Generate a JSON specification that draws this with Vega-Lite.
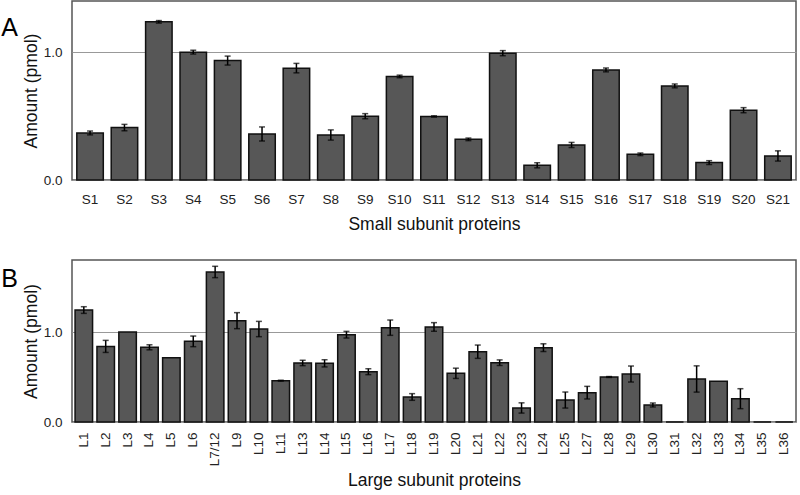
{
  "$schema": "https://vega.github.io/schema/vega-lite/v6.json",
  "background": "white",
  "padding": {"left": 0, "top": 0, "right": 2, "bottom": 2},
  "config": {
    "font": "Liberation Sans",
    "view": {"stroke": "#555", "strokeWidth": 1.5},
    "axis": {"labelFont": "Liberation Sans", "titleFont": "Liberation Sans", "labelFontSize": 13.5, "titleFontSize": 17.5, "titleFontWeight": "normal", "labelColor": "#222", "titleColor": "#111", "ticks": false, "domain": false},
    "concat": {"spacing": 25}
  },
  "datasets": {
    "small": [
      {"protein": "S1", "amount": 0.368, "err": 0.015},
      {"protein": "S2", "amount": 0.41, "err": 0.025},
      {"protein": "S3", "amount": 1.237, "err": 0.01},
      {"protein": "S4", "amount": 1.0, "err": 0.015},
      {"protein": "S5", "amount": 0.934, "err": 0.035},
      {"protein": "S6", "amount": 0.36, "err": 0.055},
      {"protein": "S7", "amount": 0.875, "err": 0.037},
      {"protein": "S8", "amount": 0.352, "err": 0.04},
      {"protein": "S9", "amount": 0.499, "err": 0.02},
      {"protein": "S10", "amount": 0.81, "err": 0.01},
      {"protein": "S11", "amount": 0.497, "err": 0.005},
      {"protein": "S12", "amount": 0.318, "err": 0.01},
      {"protein": "S13", "amount": 0.992, "err": 0.02},
      {"protein": "S14", "amount": 0.115, "err": 0.02},
      {"protein": "S15", "amount": 0.274, "err": 0.02},
      {"protein": "S16", "amount": 0.861, "err": 0.015},
      {"protein": "S17", "amount": 0.201, "err": 0.01},
      {"protein": "S18", "amount": 0.736, "err": 0.015},
      {"protein": "S19", "amount": 0.136, "err": 0.015},
      {"protein": "S20", "amount": 0.546, "err": 0.02},
      {"protein": "S21", "amount": 0.188, "err": 0.04}
    ],
    "large": [
      {"protein": "L1", "amount": 1.244, "err": 0.037},
      {"protein": "L2", "amount": 0.84, "err": 0.067},
      {"protein": "L3", "amount": 1.0, "err": 0},
      {"protein": "L4", "amount": 0.83, "err": 0.028},
      {"protein": "L5", "amount": 0.715, "err": 0},
      {"protein": "L6", "amount": 0.896, "err": 0.059},
      {"protein": "L7/12", "amount": 1.667, "err": 0.063},
      {"protein": "L9", "amount": 1.126, "err": 0.089},
      {"protein": "L10", "amount": 1.033, "err": 0.085},
      {"protein": "L11", "amount": 0.459, "err": 0.005},
      {"protein": "L13", "amount": 0.656, "err": 0.03},
      {"protein": "L14", "amount": 0.652, "err": 0.04},
      {"protein": "L15", "amount": 0.97, "err": 0.037},
      {"protein": "L16", "amount": 0.559, "err": 0.033},
      {"protein": "L17", "amount": 1.048, "err": 0.085},
      {"protein": "L18", "amount": 0.278, "err": 0.037},
      {"protein": "L19", "amount": 1.056, "err": 0.048},
      {"protein": "L20", "amount": 0.541, "err": 0.057},
      {"protein": "L21", "amount": 0.781, "err": 0.074},
      {"protein": "L22", "amount": 0.659, "err": 0.031},
      {"protein": "L23", "amount": 0.156, "err": 0.057},
      {"protein": "L24", "amount": 0.826, "err": 0.043},
      {"protein": "L25", "amount": 0.244, "err": 0.089},
      {"protein": "L27", "amount": 0.326, "err": 0.07},
      {"protein": "L28", "amount": 0.5, "err": 0.005},
      {"protein": "L29", "amount": 0.533, "err": 0.089},
      {"protein": "L30", "amount": 0.189, "err": 0.022},
      {"protein": "L31", "amount": 0, "err": 0},
      {"protein": "L32", "amount": 0.478, "err": 0.146},
      {"protein": "L33", "amount": 0.452, "err": 0},
      {"protein": "L34", "amount": 0.259, "err": 0.111},
      {"protein": "L35", "amount": 0, "err": 0},
      {"protein": "L36", "amount": 0, "err": 0}
    ]
  },
  "vconcat": [
    {
      "width": 724,
      "height": 179,
      "title": {"text": "A", "anchor": "start", "frame": "bounds", "fontSize": 25, "fontWeight": "normal", "color": "#000", "dx": -21, "dy": 40, "offset": 0},
      "data": {"name": "small"},
      "layer": [
        {
          "mark": {"type": "bar", "fill": "#575757", "stroke": "#111", "strokeWidth": 1.5},
          "encoding": {
            "x": {"field": "protein", "type": "nominal", "sort": null, "scale": {"paddingInner": 0.23, "paddingOuter": 0.14}, "axis": {"labelAngle": 0, "title": "Small subunit proteins", "labelPadding": 12, "titlePadding": 10}},
            "y": {"field": "amount", "type": "quantitative", "title": "Amount (pmol)", "scale": {"domain": [0, 1.4]}, "axis": {"values": [0, 1], "format": ".1f", "grid": true, "gridColor": "#999", "gridWidth": 1.2, "labelPadding": 10, "titlePadding": 3}}
          }
        },
        {
          "mark": {"type": "errorbar", "ticks": {"size": 6, "color": "#000"}, "color": "#000", "thickness": 1.5},
          "transform": [{"filter": "datum.err > 0"}],
          "encoding": {
            "x": {"field": "protein", "type": "nominal", "sort": null},
            "y": {"field": "amount", "type": "quantitative", "title": "Amount (pmol)"},
            "yError": {"field": "err"}
          }
        }
      ]
    },
    {
      "width": 724,
      "height": 162,
      "title": {"text": "B", "anchor": "start", "frame": "bounds", "fontSize": 25, "fontWeight": "normal", "color": "#000", "dx": -21, "dy": 32, "offset": 0},
      "data": {"name": "large"},
      "layer": [
        {
          "mark": {"type": "bar", "fill": "#575757", "stroke": "#111", "strokeWidth": 1.5},
          "encoding": {
            "x": {"field": "protein", "type": "nominal", "sort": null, "scale": {"paddingInner": 0.2, "paddingOuter": 0.14}, "axis": {"labelAngle": -90, "title": "Large subunit proteins", "labelPadding": 10, "titlePadding": 6}},
            "y": {"field": "amount", "type": "quantitative", "title": "Amount (pmol)", "scale": {"domain": [0, 1.8]}, "axis": {"values": [0, 1], "format": ".1f", "grid": true, "gridColor": "#999", "gridWidth": 1.2, "labelPadding": 10, "titlePadding": 3}}
          }
        },
        {
          "mark": {"type": "errorbar", "ticks": {"size": 6, "color": "#000"}, "color": "#000", "thickness": 1.5},
          "transform": [{"filter": "datum.err > 0"}],
          "encoding": {
            "x": {"field": "protein", "type": "nominal", "sort": null},
            "y": {"field": "amount", "type": "quantitative", "title": "Amount (pmol)"},
            "yError": {"field": "err"}
          }
        }
      ]
    }
  ]
}
